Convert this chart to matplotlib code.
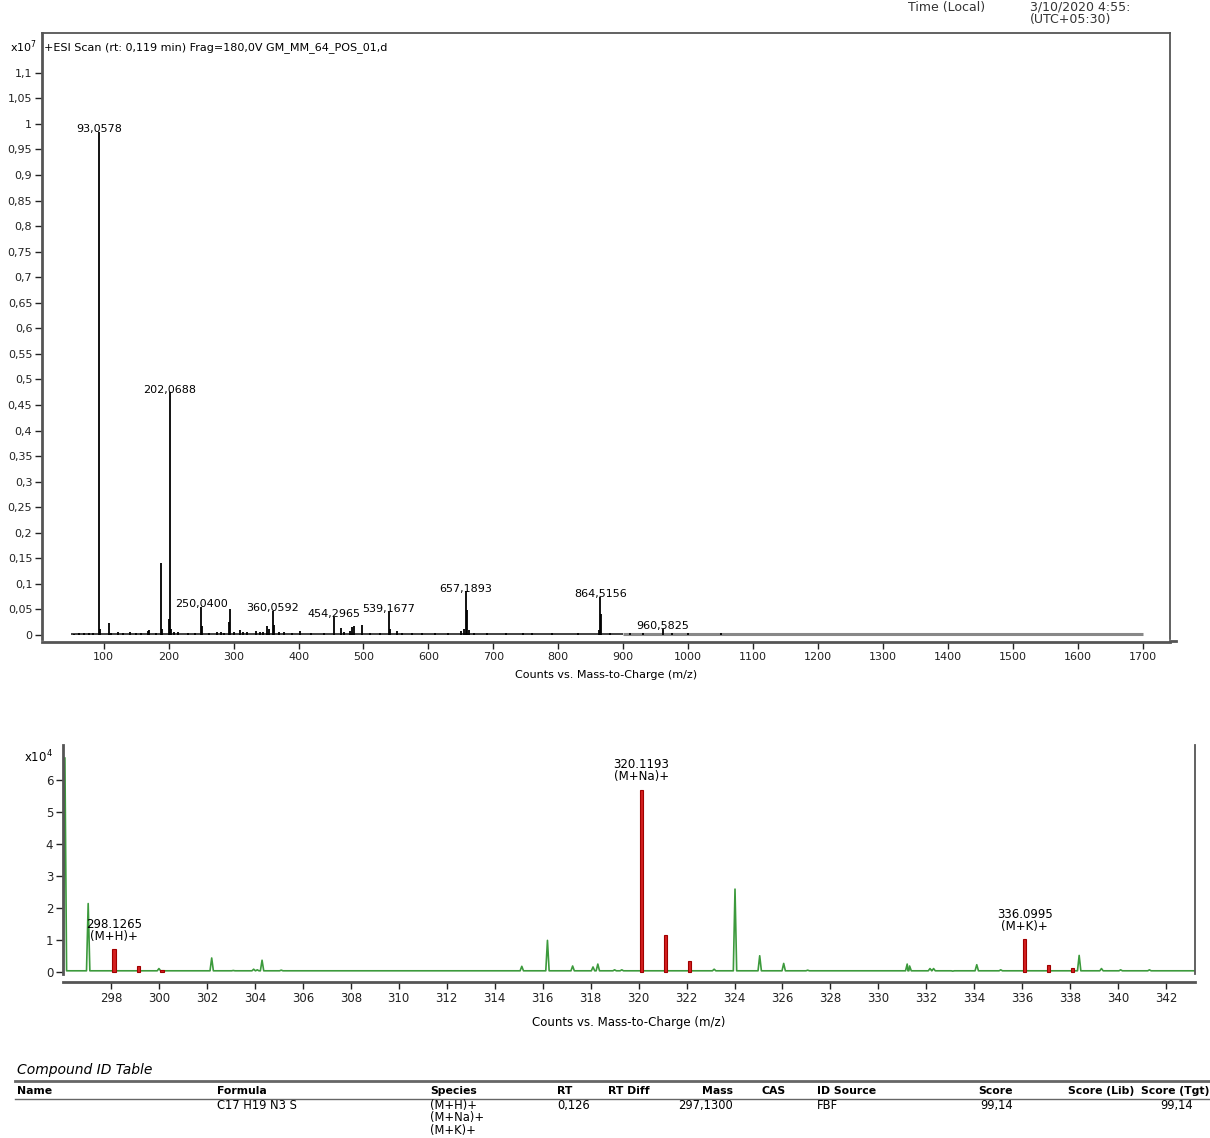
"""MS report page: full ESI scan, zoomed isotope region and compound ID table."""

import matplotlib
matplotlib.use("Agg")
import matplotlib.pyplot as plt
from matplotlib.lines import Line2D
from matplotlib.ticker import FuncFormatter

plt.rcParams["font.family"] = ["DejaVu Sans"]

# --- full scan (counts x1e7) ---
scan_mz = [55, 62, 70, 78, 84, 93.0578, 95, 108, 112, 122, 130, 140, 150, 158, 168, 170,
           180, 188, 190, 200, 202.0688, 204, 209, 215, 230, 240, 250.04, 252, 262, 275,
           280, 285, 292.5, 295, 300, 310, 315, 320, 335, 340, 345, 352, 355, 360.0592,
           362, 370, 378, 390, 403, 420, 440, 454.2965, 466, 470, 480, 483, 485, 497, 510,
           525, 539.1677, 541, 552, 560, 575, 590, 610, 630, 650, 655, 657.1893, 659, 662,
           670, 690, 720, 745, 760, 790, 830, 863, 864.5156, 866, 880, 910, 930, 960.5825,
           975, 1000, 1050]
scan_counts = [0.002, 0.003, 0.004, 0.003, 0.004, 0.985, 0.012, 0.023, 0.004, 0.006, 0.004,
               0.005, 0.004, 0.003, 0.008, 0.009, 0.004, 0.140, 0.012, 0.032, 0.475, 0.012,
               0.006, 0.005, 0.003, 0.004, 0.055, 0.018, 0.004, 0.005, 0.006, 0.004, 0.025,
               0.050, 0.005, 0.010, 0.006, 0.005, 0.008, 0.006, 0.005, 0.018, 0.012, 0.047,
               0.020, 0.006, 0.005, 0.004, 0.008, 0.004, 0.003, 0.035, 0.013, 0.006, 0.008,
               0.016, 0.017, 0.020, 0.004, 0.003, 0.045, 0.012, 0.007, 0.004, 0.003, 0.003,
               0.004, 0.003, 0.008, 0.012, 0.085, 0.048, 0.010, 0.004, 0.003, 0.003, 0.004,
               0.003, 0.003, 0.003, 0.010, 0.075, 0.040, 0.003, 0.003, 0.003, 0.012, 0.003,
               0.003, 0.004]
scan_baseline = (50, 1700)
scan_label_mz = [93.0578, 202.0688, 250.04, 360.0592, 454.2965, 539.1677, 657.1893, 864.5156, 960.5825]
scan_label_txt = ["93,0578", "202,0688", "250,0400", "360,0592", "454,2965", "539,1677",
                  "657,1893", "864,5156", "960,5825"]
scan_yticks = [0, 0.05, 0.1, 0.15, 0.2, 0.25, 0.3, 0.35, 0.4, 0.45, 0.5, 0.55, 0.6, 0.65,
               0.7, 0.75, 0.8, 0.85, 0.9, 0.95, 1, 1.05, 1.1]
scan_xticks = [100, 200, 300, 400, 500, 600, 700, 800, 900, 1000, 1100, 1200, 1300, 1400,
               1500, 1600, 1700]

# --- zoomed region (counts x1e4) ---
green_mz = [296.08, 297.05, 300.0, 301.1, 302.2, 303.1, 303.95, 304.1, 304.3, 305.1,
            315.13, 316.2, 317.25, 318.1, 318.3, 319.0, 319.3, 323.15, 324.02, 325.05,
            326.05, 327.05, 331.2, 331.3, 332.15, 332.3, 333.1, 334.1, 335.1, 336.12,
            338.37, 339.3, 340.1, 341.3, 342.1]
green_counts = [6.7, 2.15, 0.12, 0.05, 0.45, 0.06, 0.1, 0.08, 0.38, 0.07,
                0.19, 1.0, 0.2, 0.17, 0.26, 0.08, 0.08, 0.1, 2.6, 0.52,
                0.28, 0.07, 0.26, 0.2, 0.12, 0.12, 0.04, 0.24, 0.08, 0.1,
                0.53, 0.12, 0.08, 0.08, 0.05]
green_base = 0.05
red_mz = [298.1265, 299.13, 300.13, 320.1193, 321.12, 322.12, 336.0995, 337.1, 338.1]
red_counts = [0.72, 0.2, 0.08, 5.7, 1.16, 0.35, 1.03, 0.22, 0.13]
red_label_mz = [298.1265, 320.1193, 336.0995]
red_label_txt = ["298.1265\n(M+H)+", "320.1193\n(M+Na)+", "336.0995\n(M+K)+"]
zoom_xticks = list(range(298, 343, 2))
zoom_yticks = [0, 1, 2, 3, 4, 5, 6]

# --- compound table ---
table_cols = ["Name", "Formula", "Species", "RT", "RT Diff", "Mass", "CAS", "ID Source",
              "Score", "Score (Lib)", "Score (Tgt)"]
table_row = ["", "C17 H19 N3 S", "(M+H)+\n(M+Na)+\n(M+K)+", "0,126", "", "297,1300", "",
             "FBF", "99,14", "", "99,14"]

W, H = 1210, 1138
fig = plt.figure(figsize=(W / 100, H / 100), dpi=100)
FRAME = "#555555"


def fx(px):
    return px / W


def fy(py):
    return 1 - py / H


def comma(v, _pos=None):
    return f"{v:g}".replace(".", ",")


# ---------------- top panel ----------------
ax1 = fig.add_axes([fx(42), fy(639), fx(1170) - fx(42), fy(33) - fy(639)])
ax1.hlines(0.002, scan_baseline[0], 900, color="#222222", lw=1.2)
ax1.hlines(0.002, 900, scan_baseline[1], color="#888888", lw=2.2)
ax1.vlines(scan_mz, 0, scan_counts, color="black", lw=1.3)
peak_h = dict(zip(scan_mz, scan_counts))
for mz, txt in zip(scan_label_mz, scan_label_txt):
    ax1.text(mz, peak_h[mz] + 0.005, txt, ha="center", va="center", fontsize=8)
ax1.set_xlim(5, 1742)
ax1.set_ylim(-0.008, 1.178)
ax1.set_xticks(scan_xticks)
ax1.set_yticks(scan_yticks)
ax1.yaxis.set_major_formatter(FuncFormatter(comma))
ax1.tick_params(direction="out", length=5, width=1, labelsize=8, colors="#222222", pad=2)
ax1.spines["bottom"].set_position(("outward", 2))
for s in ax1.spines.values():
    s.set_color(FRAME)
    s.set_linewidth(1.3)
ax1.spines["left"].set_linewidth(2)
ax1.spines["bottom"].set_linewidth(2)
ax1.set_xlabel("Counts vs. Mass-to-Charge (m/z)", fontsize=8, labelpad=6)
ax1.text(0.002, 0.985, "+ESI Scan (rt: 0,119 min) Frag=180,0V GM_MM_64_POS_01,d",
         transform=ax1.transAxes, ha="left", va="top", fontsize=8)
fig.text(fx(10), fy(47), r"x10$^7$", fontsize=8, va="center")
# x axis line runs a little past the frame
fig.add_artist(Line2D([fx(1170), fx(1176)], [fy(641), fy(641)], color=FRAME, lw=2))

# page header fragments at the top edge
fig.text(fx(985), fy(7), "Time (Local)", fontsize=9, ha="right", va="center", color="#333333")
fig.text(fx(1030), fy(7), "3/10/2020 4:55:", fontsize=9, ha="left", va="center", color="#333333")
fig.text(fx(1030), fy(20), "(UTC+05:30)", fontsize=9, ha="left", va="center", color="#333333")

# ---------------- zoom panel ----------------
ax2 = fig.add_axes([fx(63), fy(974), fx(1195) - fx(63), fy(745) - fy(974)])
pts = sorted([(m - 0.07, green_base) for m in green_mz] + list(zip(green_mz, green_counts)) +
             [(m + 0.07, green_base) for m in green_mz] + [(296.0, green_base), (343.4, green_base)])
ax2.plot([p[0] for p in pts], [p[1] for p in pts], color="#3c9a3c", lw=1.2)
ax2.bar(red_mz, red_counts, width=0.13, color="#d42020", edgecolor="#a00000", lw=0.8, zorder=3)
red_h = dict(zip(red_mz, red_counts))
for mz, txt in zip(red_label_mz, red_label_txt):
    ax2.text(mz, red_h[mz] + 0.2, txt, ha="center", va="bottom", fontsize=8.5, linespacing=0.9)
ax2.set_xlim(296.0, 343.2)
ax2.set_ylim(-0.05, 7.1)
ax2.set_xticks(zoom_xticks)
ax2.set_yticks(zoom_yticks)
ax2.tick_params(direction="out", length=5, width=1, labelsize=8.5, colors="#222222", pad=2)
ax2.spines["top"].set_visible(False)
ax2.spines["bottom"].set_position(("outward", 6))
for s in ax2.spines.values():
    s.set_color(FRAME)
    s.set_linewidth(1.3)
ax2.spines["left"].set_linewidth(2)
ax2.spines["bottom"].set_linewidth(2)
ax2.set_xlabel("Counts vs. Mass-to-Charge (m/z)", fontsize=8.5, labelpad=8)
fig.text(fx(24), fy(757), r"x10$^4$", fontsize=8.5, va="center")

# ---------------- compound table ----------------
fig.text(fx(17), fy(1070), "Compound ID Table", fontsize=10, style="italic", va="center")
fig.add_artist(Line2D([fx(15), 1], [fy(1081), fy(1081)], color="#666666", lw=2))
fig.add_artist(Line2D([fx(15), 1], [fy(1099), fy(1099)], color="#666666", lw=1))
col_x = [17, 217, 430, 572, 608, 733, 762, 817, 1013, 1134, 1209]
col_ha = ["left", "left", "left", "right", "left", "right", "left", "left", "right", "right", "right"]
row_x = [17, 217, 430, 557, 608, 733, 762, 817, 1013, 1134, 1193]
for x, ha, name in zip(col_x, col_ha, table_cols):
    fig.text(fx(x), fy(1091), name, fontsize=7.8, weight="bold", ha=ha, va="center")
for x, ha, val in zip(row_x, col_ha, table_row):
    if val == "0,126":
        ha = "left"
    fig.text(fx(x), fy(1099), val, fontsize=8.3, ha=ha, va="top", linespacing=0.95)

fig.savefig("out.png", dpi=100)
